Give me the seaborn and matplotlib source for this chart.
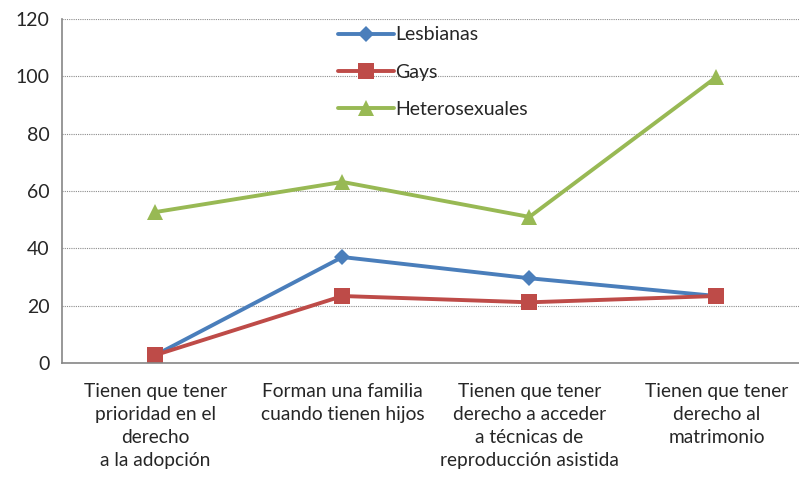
"""
Line chart: opinion by group (Lesbianas, Gays, Heterosexuales)
"""

import matplotlib.pyplot as plt
import seaborn as sns
import pandas as pd
import numpy as np
from matplotlib.ticker import FixedLocator

categories = [
    "Tienen que tener\nprioridad en el\nderecho\na la adopción",
    "Forman una familia\ncuando tienen hijos",
    "Tienen que tener\nderecho a acceder\na técnicas de\nreproducción asistida",
    "Tienen que tener\nderecho al\nmatrimonio",
]
lesbianas = [2.8, 37.0, 29.6, 23.4]
gays = [2.8, 23.4, 21.2, 23.4]
heterosexuales = [52.7, 63.2, 51.0, 99.8]

series = {"Lesbianas": lesbianas, "Gays": gays, "Heterosexuales": heterosexuales}
df = pd.concat(
    [pd.DataFrame({"x": np.arange(len(categories)), "valor": v, "grupo": k})
     for k, v in series.items()],
    ignore_index=True,
)

sns.set_style("white")
plt.rcParams['font.family'] = ['Lato', 'DejaVu Sans']
plt.rcParams['font.size'] = 13

palette = {"Lesbianas": "#4A7EBB", "Gays": "#BE4B48", "Heterosexuales": "#98B954"}
markers = {"Lesbianas": "D", "Gays": "s", "Heterosexuales": "^"}

fig = plt.figure(figsize=(7.99, 4.79), dpi=100)
# the axis runs a bit past the right edge of the picture, as in the original
ax = fig.add_axes([0.0776, 0.242, 0.936, 0.718])

sns.lineplot(data=df, x="x", y="valor", hue="grupo", style="grupo",
             palette=palette, markers=markers, dashes=False, linewidth=2.8,
             markersize=10, markeredgewidth=0, sort=False, ax=ax)

for line in ax.lines:
    if line.get_marker() == "s":
        line.set_markersize(11.5)
    elif line.get_marker() == "^":
        line.set_markersize(12)
    elif line.get_marker() == "D":
        line.set_markersize(8.5)

ax.set_xlim(-0.5, len(categories) - 0.5)
ax.set_ylim(0, 120)
ax.set_yticks(range(0, 121, 20))
ax.set_xticks(range(len(categories)))
ax.set_xticklabels(categories, ha='center', linespacing=1.45)
ax.xaxis.set_minor_locator(FixedLocator(np.arange(-0.5, len(categories), 1.0)))
ax.tick_params(axis='x', which='major', length=0, pad=14, labelsize=13.8)
ax.tick_params(axis='x', which='minor', length=5, color='#868686', width=1)
ax.tick_params(axis='y', length=5, color='#868686', width=1, labelsize=14, pad=4)
ax.set_xlabel("")
ax.set_ylabel("")

ax.grid(True, axis='y', linestyle=(0, (1, 1)), color='#8C8C8C', linewidth=0.8)
for side in ['top', 'right']:
    ax.spines[side].set_visible(False)
for side in ['left', 'bottom']:
    ax.spines[side].set_color('#868686')
    ax.spines[side].set_linewidth(1.2)

handles, labels = ax.get_legend_handles_labels()
ax.legend(handles, labels, loc='upper left', bbox_to_anchor=(0.345, 1.03),
          frameon=False, handlelength=2.9, handletextpad=0.08,
          labelspacing=1.05, fontsize=14)

plt.savefig('out.png', dpi=100)
